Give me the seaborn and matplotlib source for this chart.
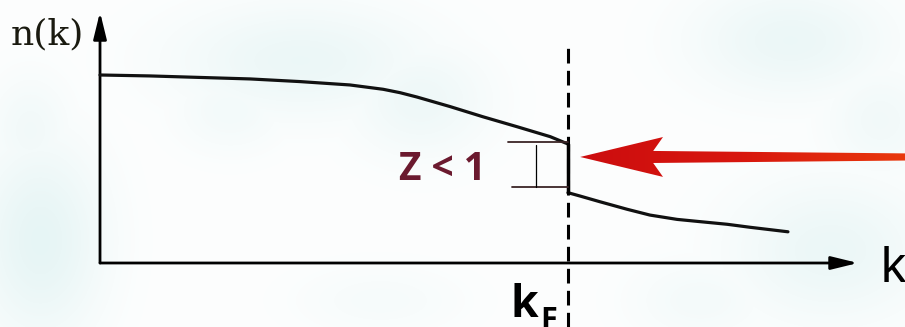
import numpy as np
import matplotlib
matplotlib.use("Agg")
import matplotlib.pyplot as plt
import seaborn as sns
import pandas as pd
from matplotlib.patches import Polygon
from matplotlib.colors import LinearSegmentedColormap

# Occupation n(k) of an interacting Fermi liquid, k in units of k_F
k_below = [0.0, 0.107, 0.214, 0.321, 0.427, 0.534, 0.605, 0.641, 0.677, 0.748,
           0.818, 0.891, 0.962, 1.0]
n_below = [1.000, 0.995, 0.987, 0.979, 0.965, 0.947, 0.924, 0.906, 0.883, 0.832,
           0.778, 0.725, 0.672, 0.633]
k_above = [1.0, 1.026, 1.068, 1.126, 1.175, 1.233, 1.282, 1.340, 1.389, 1.470]
n_above = [0.374, 0.356, 0.326, 0.286, 0.255, 0.232, 0.220, 0.206, 0.190, 0.166]
k_fermi = 1.0

z_label = "Z < 1"
x_label = "k"
y_label = "n(k)"
fermi_label = ("k", "F")

sns.set_theme(style="white")
plt.rcParams["font.family"] = ["Open Sans", "DejaVu Sans"]

W, H = 905, 327
fig = plt.figure(figsize=(W / 100, H / 100), dpi=100)
ax = fig.add_axes([0, 0, 1, 1])
x0, x1 = -0.2137, 1.7201
y0, y1 = -0.3404, 1.3989
ax.set_xlim(x0, x1)
ax.set_ylim(y0, y1)
ax.axis("off")

# faint pale-cyan backdrop
yy, xx = np.mgrid[0:H, 0:W]
blobs = [(40, 240, 45, 70, 0.50), (30, 130, 30, 40, 0.25), (300, 60, 90, 40, 0.38),
         (420, 100, 50, 40, 0.32), (230, 110, 40, 30, 0.22), (790, 40, 70, 40, 0.38),
         (880, 120, 40, 40, 0.25), (830, 250, 70, 50, 0.38), (700, 300, 50, 30, 0.20),
         (380, 300, 60, 25, 0.15)]
a = np.zeros((H, W))
for cx, cy, sx, sy, amp in blobs:
    a = np.maximum(a, amp * np.exp(-(((xx - cx) / sx) ** 2 + ((yy - cy) / sy) ** 2) / 2))
base = np.array([253, 254, 254]) / 255
tint = np.array([208, 236, 236]) / 255
bg = base[None, None, :] * (1 - a[..., None]) + tint[None, None, :] * a[..., None]
ax.imshow(bg, extent=[x0, x1, y0, y1], aspect="auto", zorder=0, interpolation="bilinear")

# coordinate axes with arrow heads
k_axis_end, n_axis_end = 1.6197, 1.335
arrow_kw = dict(arrowstyle="-|>,head_length=0.9,head_width=0.22", lw=2.0, color="black",
                mutation_scale=18, shrinkA=0, shrinkB=0)
ax.annotate("", xy=(k_axis_end, 0), xytext=(0, 0), arrowprops=arrow_kw, zorder=3)
ax.annotate("", xy=(0, n_axis_end), xytext=(0, 0), arrowprops=arrow_kw, zorder=3)

# distribution below and above k_F
df_below = pd.DataFrame({"k": k_below, "n": n_below})
df_above = pd.DataFrame({"k": k_above, "n": n_above})
line_kw = dict(color="#111111", lw=2.3, zorder=4, solid_joinstyle="round", solid_capstyle="round")
sns.lineplot(data=df_below, x="k", y="n", ax=ax, **line_kw)
sns.lineplot(data=df_above, x="k", y="n", ax=ax, **line_kw)

# discontinuity at k_F and the Fermi-momentum marker
ax.plot([k_fermi, k_fermi], [n_below[-1], n_above[0]], color="black", lw=2.5, zorder=4)
ax.plot([k_fermi, k_fermi], [y0, 1.176], color="black", lw=2.2, dashes=(4.8, 2.4), zorder=3)

# quasiparticle weight bracket
z_top, z_bot = 0.644, 0.404
ax.plot([0.872, k_fermi], [z_top, z_top], color="#3b2426", lw=1.3, zorder=4)
ax.plot([0.880, k_fermi], [z_bot, z_bot], color="#3b2426", lw=1.3, zorder=4)
ax.plot([0.932, 0.932], [0.628, z_bot], color="black", lw=0.9, zorder=4)
ax.text(0.732, 0.441, z_label, color="#6b1a2f", fontsize=28, fontweight="bold",
        ha="center", va="baseline", zorder=5)

# red arrow pointing at the jump
tip_k, tip_n = k_fermi + 0.026, 0.564
head_k, notch_k, end_k = 1.203, 1.182, x1
hh, sh0, sh1 = 0.106, 0.032, 0.019
pts = [(tip_k, tip_n), (head_k, tip_n + hh), (notch_k, tip_n + sh0), (end_k, tip_n + sh1),
       (end_k, tip_n - sh1), (notch_k, tip_n - sh0), (head_k, tip_n - hh)]
poly = Polygon(pts, closed=True, facecolor="none", edgecolor="none")
ax.add_patch(poly)
cmap = LinearSegmentedColormap.from_list("redorange", ["#cc0d0f", "#d8170e", "#e9380c"])
grad = np.linspace(0, 1, 256)[None, :]
im = ax.imshow(grad, cmap=cmap, extent=[tip_k, end_k, tip_n - hh, tip_n + hh],
               aspect="auto", zorder=5)
im.set_clip_path(poly)

# labels
ax.text(-0.190, 1.165, y_label, family=["DejaVu Serif"], fontsize=26, color="#1a1a10",
        ha="left", va="baseline")
ax.text(1.667, -0.101, x_label, family=["Liberation Sans"], fontsize=36, color="black",
        ha="left", va="baseline")
ax.text(0.878, -0.287, fermi_label[0], fontsize=32, fontweight="bold", color="black",
        ha="left", va="baseline")
ax.text(0.940, -0.351, fermi_label[1], fontsize=22, fontweight="bold", color="black",
        ha="left", va="baseline")

fig.savefig("out.png", dpi=100)
